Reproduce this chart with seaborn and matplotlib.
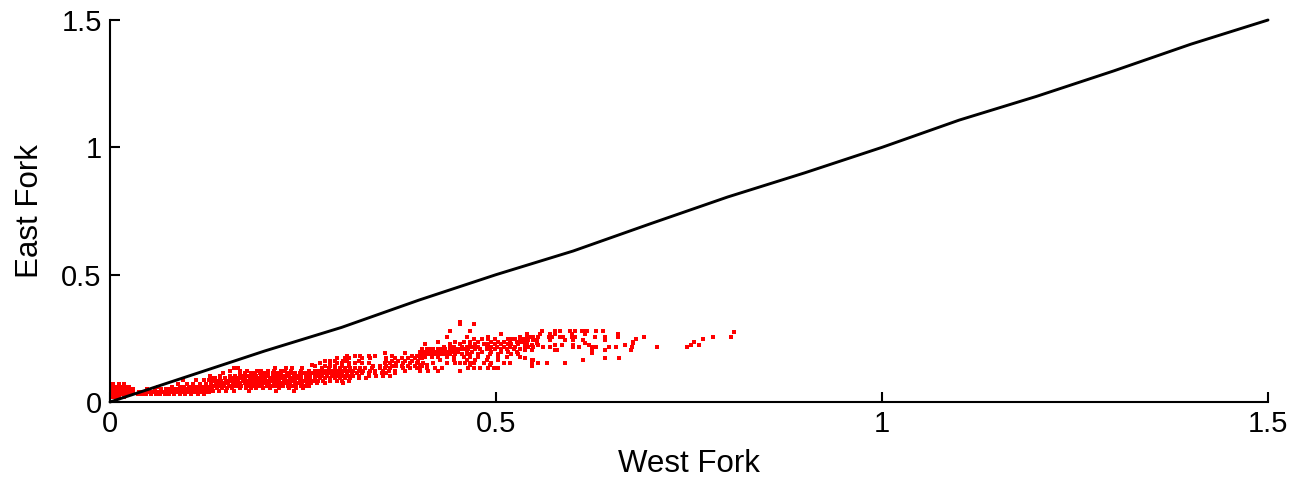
import matplotlib
matplotlib.use("Agg")
import matplotlib.pyplot as plt
import pandas as pd
import seaborn as sns

# 1:1 reference curve
ref_west = [0, 0.1, 0.2, 0.3, 0.4, 0.5, 0.6, 0.7, 0.8, 0.9, 1.0, 1.1, 1.2, 1.3, 1.4, 1.5]
ref_east = [0, 0.1, 0.2, 0.293, 0.4, 0.5, 0.593, 0.7, 0.805, 0.9, 1.0, 1.107, 1.2, 1.3, 1.405, 1.5]

tick_values = [0, 0.5, 1, 1.5]
tick_labels = ["0", "0.5", "1", "1.5"]

# Paired readings grouped by East Fork value: (east, [west, ...])
pairs_origin = [
    (0.07, [0.004, 0.012, 0.018]),
    (0.06, [0.002, 0.006, 0.010, 0.014, 0.020, 0.024]),
    (0.05, [0.002, 0.006, 0.010, 0.014, 0.018, 0.022, 0.026, 0.030]),
    (0.04, [0.002, 0.006, 0.010, 0.014, 0.018, 0.022, 0.026, 0.030]),
    (0.03, [0.002, 0.006, 0.010, 0.014, 0.018, 0.022, 0.027]),
    (0.02, [0.002, 0.007, 0.012, 0.018]),
]

pairs_low = [
    (0.086, [0.095, 0.112, 0.122, 0.128]),
    (0.07, [0.088, 0.100, 0.108, 0.116, 0.124]),
    (0.06, [0.062, 0.080, 0.090, 0.096, 0.102, 0.107, 0.112, 0.117, 0.122, 0.127]),
    (0.05, [0.048, 0.058, 0.066, 0.072, 0.078, 0.083, 0.088, 0.093, 0.098, 0.103,
            0.108, 0.113, 0.118, 0.123, 0.128]),
    (0.04, [0.038, 0.043, 0.048, 0.053, 0.058, 0.063, 0.068, 0.073, 0.078, 0.083,
            0.088, 0.093, 0.098, 0.103, 0.108, 0.113, 0.118, 0.123, 0.128]),
    (0.03, [0.036, 0.042, 0.047, 0.053, 0.059, 0.065, 0.071, 0.077, 0.083, 0.090,
            0.097, 0.105, 0.114, 0.122]),
]

pairs_band = [
    (0.145, [0.262]),
    (0.132, [0.160, 0.166, 0.214, 0.228, 0.236, 0.249]),
    (0.122, [0.155, 0.168, 0.178, 0.190, 0.196, 0.205, 0.212, 0.221, 0.227, 0.235,
             0.247, 0.258]),
    (0.112, [0.146, 0.168, 0.175, 0.183, 0.188, 0.194, 0.199, 0.205, 0.211, 0.216,
             0.222, 0.229, 0.234, 0.240, 0.246, 0.251, 0.257, 0.262]),
    (0.102, [0.130, 0.142, 0.155, 0.162, 0.168, 0.174, 0.179, 0.184, 0.189, 0.195,
             0.200, 0.205, 0.211, 0.216, 0.221, 0.227, 0.232, 0.238, 0.243, 0.248,
             0.254, 0.259]),
    (0.093, [0.131, 0.136, 0.142, 0.149, 0.155, 0.160, 0.165, 0.170, 0.175, 0.181,
             0.186, 0.191, 0.196, 0.201, 0.207, 0.212, 0.217, 0.222, 0.227, 0.233,
             0.238, 0.243, 0.248, 0.254, 0.259]),
    (0.083, [0.133, 0.138, 0.144, 0.150, 0.156, 0.161, 0.166, 0.172, 0.177, 0.182,
             0.188, 0.193, 0.198, 0.203, 0.209, 0.214, 0.219, 0.225, 0.230, 0.235,
             0.240, 0.246, 0.251, 0.256, 0.261]),
    (0.073, [0.131, 0.137, 0.143, 0.148, 0.153, 0.159, 0.164, 0.169, 0.175, 0.180,
             0.185, 0.191, 0.196, 0.201, 0.206, 0.212, 0.217, 0.223, 0.228, 0.233,
             0.239, 0.244, 0.249, 0.255, 0.260]),
    (0.063, [0.132, 0.137, 0.142, 0.148, 0.154, 0.159, 0.165, 0.170, 0.176, 0.181,
             0.186, 0.192, 0.197, 0.203, 0.208, 0.214, 0.219, 0.224, 0.230, 0.236,
             0.241, 0.247, 0.252, 0.258]),
    (0.054, [0.132, 0.138, 0.145, 0.152, 0.158, 0.168, 0.176, 0.183, 0.189, 0.198,
             0.207, 0.219, 0.232, 0.241, 0.250]),
    (0.044, [0.134, 0.141, 0.150, 0.160, 0.180, 0.215, 0.238]),
]

pairs_mid = [
    (0.191, [0.356, 0.382]),
    (0.181, [0.307, 0.317, 0.324, 0.335, 0.343, 0.365, 0.391, 0.397]),
    (0.171, [0.294, 0.304, 0.309, 0.326, 0.337, 0.358, 0.369, 0.378, 0.386, 0.395, 0.404]),
    (0.161, [0.278, 0.285, 0.291, 0.302, 0.307, 0.322, 0.358, 0.365, 0.373, 0.382,
             0.391, 0.399]),
    (0.152, [0.272, 0.285, 0.294, 0.300, 0.309, 0.317, 0.326, 0.335, 0.356, 0.363,
             0.371, 0.380, 0.389, 0.397, 0.406]),
    (0.141, [0.266, 0.278, 0.285, 0.291, 0.300, 0.309, 0.341, 0.350, 0.358, 0.365,
             0.371, 0.378, 0.386, 0.395, 0.404]),
    (0.132, [0.274, 0.283, 0.291, 0.298, 0.304, 0.311, 0.317, 0.324, 0.330, 0.339,
             0.350, 0.356, 0.363, 0.380, 0.389, 0.397]),
    (0.122, [0.266, 0.270, 0.274, 0.278, 0.283, 0.287, 0.291, 0.296, 0.300, 0.304,
             0.309, 0.315, 0.322, 0.328, 0.337, 0.343, 0.354, 0.361, 0.369, 0.382]),
    (0.112, [0.266, 0.270, 0.274, 0.278, 0.283, 0.287, 0.291, 0.296, 0.300, 0.307,
             0.313, 0.320, 0.326, 0.335, 0.343, 0.352, 0.358, 0.369]),
    (0.102, [0.266, 0.270, 0.274, 0.281, 0.287, 0.291, 0.296, 0.300, 0.304, 0.309,
             0.315, 0.322, 0.335, 0.345, 0.354, 0.363]),
    (0.093, [0.266, 0.272, 0.278, 0.285, 0.291, 0.298, 0.304, 0.311, 0.322, 0.332]),
    (0.082, [0.266, 0.270, 0.276, 0.285, 0.294, 0.300, 0.309]),
    (0.073, [0.268, 0.278, 0.302]),
]

pairs_upper = [
    (0.315, [0.453]),
    (0.306, [0.453, 0.471]),
    (0.279, [0.440, 0.466]),
    (0.266, [0.507]),
    (0.257, [0.436, 0.462, 0.490, 0.531, 0.540]),
    (0.246, [0.471, 0.482, 0.490, 0.499, 0.516, 0.520, 0.525, 0.531, 0.536, 0.540]),
    (0.237, [0.425, 0.447, 0.458, 0.466, 0.477, 0.494, 0.503, 0.510, 0.518, 0.527, 0.533]),
    (0.226, [0.408, 0.440, 0.453, 0.466, 0.473, 0.484, 0.490, 0.499, 0.507, 0.516,
             0.520, 0.529, 0.540]),
    (0.217, [0.432, 0.440, 0.445, 0.456, 0.462, 0.466, 0.471, 0.477, 0.488, 0.494,
             0.501, 0.510, 0.518, 0.525]),
    (0.207, [0.404, 0.410, 0.415, 0.419, 0.425, 0.430, 0.434, 0.440, 0.445, 0.451,
             0.456, 0.460, 0.464, 0.473, 0.479, 0.488, 0.492, 0.499, 0.507, 0.514,
             0.523, 0.531]),
    (0.198, [0.402, 0.406, 0.410, 0.415, 0.419, 0.423, 0.428, 0.432, 0.438, 0.443,
             0.447, 0.451, 0.462, 0.469, 0.482, 0.494, 0.507, 0.516, 0.527]),
    (0.188, [0.402, 0.406, 0.410, 0.415, 0.419, 0.423, 0.428, 0.432, 0.436, 0.440,
             0.447, 0.456, 0.462, 0.466, 0.477, 0.492, 0.503, 0.520, 0.529]),
    (0.178, [0.402, 0.408, 0.417, 0.425, 0.436, 0.445, 0.458, 0.466, 0.477, 0.490,
             0.503, 0.514, 0.531]),
    (0.165, [0.428, 0.445, 0.462, 0.473, 0.488, 0.503]),
    (0.154, [0.419, 0.436, 0.447, 0.453, 0.460, 0.466, 0.471, 0.484, 0.494, 0.510, 0.518]),
    (0.145, [0.402, 0.410, 0.466, 0.492]),
    (0.132, [0.402, 0.410, 0.421, 0.430, 0.464, 0.471, 0.479, 0.490, 0.497, 0.503]),
    (0.122, [0.402, 0.412, 0.425, 0.453]),
]

pairs_high = [
    (0.279, [0.559, 0.576, 0.583, 0.596, 0.602, 0.611, 0.614, 0.618, 0.630, 0.638]),
    (0.266, [0.540, 0.557, 0.570, 0.576, 0.598, 0.615, 0.658]),
    (0.255, [0.540, 0.544, 0.548, 0.555, 0.568, 0.572, 0.583, 0.587, 0.598, 0.602,
             0.628, 0.641, 0.658]),
    (0.243, [0.542, 0.548, 0.553, 0.570, 0.589, 0.600, 0.613, 0.641]),
    (0.233, [0.538, 0.553, 0.615, 0.678]),
    (0.224, [0.540, 0.546, 0.555, 0.576, 0.585, 0.600, 0.620, 0.667]),
    (0.215, [0.538, 0.542, 0.548, 0.561, 0.570, 0.600, 0.607, 0.624, 0.630, 0.646,
             0.656, 0.676]),
    (0.204, [0.538, 0.546, 0.576, 0.579, 0.624, 0.641]),
    (0.194, [0.624]),
    (0.174, [0.538, 0.641, 0.659]),
    (0.165, [0.546, 0.548, 0.613]),
    (0.152, [0.546, 0.555, 0.566, 0.589]),
    (0.143, [0.546]),
]

tail_west = [0.675, 0.678, 0.681, 0.692, 0.709, 0.747, 0.753, 0.757, 0.763, 0.768,
             0.781, 0.804, 0.808]
tail_east = [0.204, 0.234, 0.246, 0.255, 0.215, 0.215, 0.224, 0.237, 0.224, 0.246,
             0.255, 0.255, 0.276]


def expand(groups):
    west, east = [], []
    for e, ws in groups:
        west.extend(ws)
        east.extend([e] * len(ws))
    return west, east


west_all, east_all = [], []
for grp in (pairs_origin, pairs_low, pairs_band, pairs_mid, pairs_upper, pairs_high):
    w, e = expand(grp)
    west_all += w
    east_all += e
west_all += tail_west
east_all += tail_east

points = pd.DataFrame({"West Fork": west_all, "East Fork": east_all})
ref = pd.DataFrame({"West Fork": ref_west, "East Fork": ref_east})

sns.set_style("ticks")
plt.rcParams["font.family"] = ["Liberation Sans", "DejaVu Sans"]

fig = plt.figure(figsize=(12.96, 4.8), dpi=100)
ax = fig.add_axes([0.0849, 0.1625, 0.8935, 0.7958])

sns.scatterplot(data=points, x="West Fork", y="East Fork", color="#ff0000",
                marker="s", s=5, linewidth=0, ax=ax, zorder=2)
sns.lineplot(data=ref, x="West Fork", y="East Fork", color="black", linewidth=2.1,
             sort=False, estimator=None, ax=ax, zorder=3, clip_on=False)

ax.set_xlim(0, 1.5)
ax.set_ylim(0, 1.5)
ax.set_xticks(tick_values)
ax.set_xticklabels(tick_labels)
ax.set_yticks(tick_values)
ax.set_yticklabels(tick_labels)
sns.despine(ax=ax)
for side in ("left", "bottom"):
    ax.spines[side].set_linewidth(1.5)
    ax.spines[side].set_color("black")
ax.tick_params(direction="in", length=7, width=1.5, labelsize=21, pad=6,
               colors="black", labelcolor="black")
ax.set_xlabel("West Fork", fontsize=22.5, labelpad=8, color="black")
ax.set_ylabel("East Fork", fontsize=22.5, labelpad=12, color="black")

fig.savefig("out.png", dpi=100)
